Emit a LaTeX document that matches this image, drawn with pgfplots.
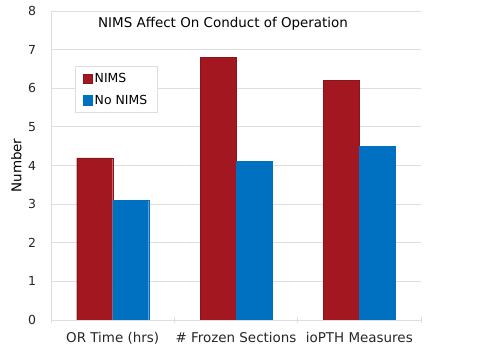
\documentclass[border=0pt]{standalone}
\usepackage{fontspec}
\setmainfont{DejaVu Sans}
\usepackage{pgfplots}
\pgfplotsset{compat=1.18}
\definecolor{nimsred}{RGB}{163,24,32}
\definecolor{nimsblue}{RGB}{0,112,192}
\definecolor{gridgray}{RGB}{222,222,222}
\begin{document}
\begin{tikzpicture}[x=1bp,y=1bp]
\useasboundingbox (-51bp,-36bp) rectangle (449bp,320bp);
\begin{axis}[
  at={(0,0)}, anchor=south west,
  scale only axis, width=370bp, height=309bp,
  ybar=0pt, bar width=36bp,
  xmin=0.5, xmax=3.5, ymin=0, ymax=8,
  xtick={0.5,1.5,2.5,3.5},
  xticklabels={},
  major x tick style={draw=gridgray, line width=0.8pt},
  xtick align=outside,
  major tick length=5bp,
  extra x ticks={1,2,3},
  extra x tick labels={OR Time (hrs),\# Frozen Sections,ioPTH Measures},
  extra x tick style={major tick length=0pt, grid=none},
  x tick label style={yshift=-9bp, font=\fontsize{13.5}{15}\selectfont},
  y tick label style={xshift=-9bp, font=\fontsize{12.5}{14}\selectfont},
  ytick={0,1,...,8},
  ymajorgrids,
  grid style={draw=gridgray, line width=0.8pt},
  major y tick style={draw=none},
  axis x line=bottom, axis y line=left,
  axis line style={draw=gridgray, line width=0.8pt, -},
  ylabel={Number},
  ylabel style={at={(axis description cs:-0.07,0.5)}, anchor=south, font=\fontsize{13.5}{15}\selectfont},
  tick label style={text=black!85},
  /pgf/number format/assume math mode=true,
  title={NIMS Affect On Conduct of Operation},
  title style={at={(axis description cs:0.465,0.938)}, anchor=center, font=\fontsize{13.5}{15}\selectfont},
  legend style={at={(axis description cs:0.065,0.822)}, anchor=north west,
    draw=gridgray, line width=0.8pt, font=\fontsize{12.5}{14}\selectfont,
    row sep=7bp, inner xsep=8bp, inner ysep=5bp},
  legend cell align=left,
  legend image code/.code={\fill[#1] (0bp,-4.5bp) rectangle (9bp,5bp);},
]
\addplot[fill=nimsred, draw=nimsred!85!black, line width=0.3pt] coordinates {(1,4.2) (2,6.8) (3,6.2)};
\addplot[fill=nimsblue, draw=nimsblue, line width=0.3pt] coordinates {(1,3.1) (2,4.1) (3,4.5)};
\legend{NIMS, No NIMS}
\end{axis}
\end{tikzpicture}
\end{document}
